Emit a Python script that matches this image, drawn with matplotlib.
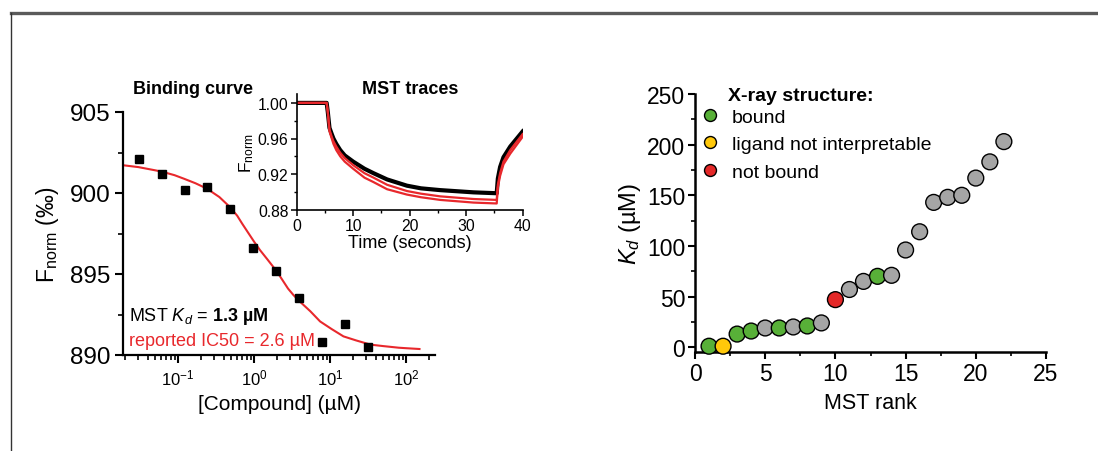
import matplotlib
matplotlib.use('Agg')
import matplotlib.pyplot as plt
from matplotlib.lines import Line2D
from matplotlib.ticker import MultipleLocator, FormatStrFormatter

plt.rcParams['font.family'] = ['Liberation Sans', 'DejaVu Sans']
plt.rcParams['mathtext.fontset'] = 'custom'
plt.rcParams['mathtext.rm'] = 'Liberation Sans'
plt.rcParams['mathtext.it'] = 'Liberation Sans:italic'
plt.rcParams['mathtext.bf'] = 'Liberation Sans:bold'

# binding curve: measured points (2-fold dilution series)
conc = [0.0305, 0.061, 0.122, 0.244, 0.488, 0.977, 1.95, 3.9, 7.8, 15.6, 31.25]
fnorm = [902.1, 901.2, 900.2, 900.4, 899.0, 896.6, 895.2, 893.5, 890.8, 891.9, 890.5]

# fitted curve
fit_conc = [0.02, 0.03, 0.06, 0.09, 0.12, 0.17, 0.24, 0.35, 0.48, 0.6, 0.7, 0.85,
            1.0, 1.2, 1.5, 2.0, 2.8, 3.3, 4.0, 5.5, 7.4, 10.5, 15, 22, 34, 50,
            80, 100, 150]
fit_fnorm = [901.70, 901.6, 901.33, 901.1, 900.88, 900.6, 900.27, 899.75, 899.14,
             898.6, 898.1, 897.5, 897.0, 896.47, 895.9, 895.15, 894.1, 893.7,
             893.3, 892.7, 892.07, 891.6, 891.15, 890.9, 890.64, 890.55, 890.45,
             890.42, 890.37]

# MST traces (inset)
trace_time = [0, 5.3, 5.5, 5.8, 6.2, 6.5, 7.0, 7.7, 8.5, 10, 12, 13.6, 16, 19.5,
              22, 25.4, 31.3, 35.4, 35.6, 36.0, 36.6, 37.8, 40]
trace_black = [1.0, 1.0, 0.99, 0.972, 0.965, 0.960, 0.954, 0.947, 0.941, 0.934,
               0.926, 0.921, 0.914, 0.907, 0.904, 0.902, 0.8995, 0.8985, 0.915,
               0.928, 0.939, 0.951, 0.968]
trace_red_hi = [1.0, 1.0, 0.99, 0.970, 0.962, 0.957, 0.951, 0.944, 0.938, 0.930,
                0.921, 0.916, 0.908, 0.901, 0.898, 0.895, 0.892, 0.891, 0.908,
                0.921, 0.934, 0.947, 0.965]
trace_red_lo = [1.0, 1.0, 0.99, 0.968, 0.960, 0.954, 0.947, 0.940, 0.934, 0.926,
                0.916, 0.911, 0.903, 0.897, 0.894, 0.891, 0.888, 0.887, 0.905,
                0.918, 0.931, 0.943, 0.962]

# Kd vs MST rank
rank = list(range(1, 23))
kd = [1, 1, 13, 16, 19, 19, 20, 21, 24, 47, 57, 65, 70, 71, 96, 114, 143, 148,
      150, 167, 183, 203]
xray = ['bound', 'ligand', 'bound', 'bound', 'none', 'bound', 'none', 'bound',
        'none', 'notbound', 'none', 'none', 'bound', 'none', 'none', 'none',
        'none', 'none', 'none', 'none', 'none', 'none']

colors = {'bound': '#58b038', 'ligand': '#ffc80a', 'notbound': '#e42828',
          'none': '#a5a5a5'}
legend_labels = ['bound', 'ligand not interpretable', 'not bound']
legend_keys = ['bound', 'ligand', 'notbound']

red = '#e8282c'
W, H = 1098, 452

fig = plt.figure(figsize=(10.98, 4.52), dpi=100)

# frame lines
fig.add_artist(Line2D([11 / W, 1], [1 - 14 / H, 1 - 14 / H], color='#5a5a5a', lw=2.4))
fig.add_artist(Line2D([11 / W, 11 / W], [1 - 14 / H, 0], color='#333333', lw=1))

# ---- binding curve ----
ax1 = fig.add_axes([123 / W, 1 - 356 / H, (435 - 123) / W, (356 - 113) / H])
ax1.set_xscale('log')
ax1.plot(fit_conc, fit_fnorm, color=red, lw=1.5)
ax1.plot(conc, fnorm, 's', color='k', ms=5.5)
ax1.set_xlim(0.0189, 240)
ax1.set_ylim(890, 905)
ax1.yaxis.set_major_locator(MultipleLocator(5))
ax1.yaxis.set_minor_locator(MultipleLocator(2.5))
for s in ['top', 'right']:
    ax1.spines[s].set_visible(False)
for s in ['left', 'bottom']:
    ax1.spines[s].set_linewidth(1.6)
ax1.tick_params(which='major', direction='out', length=6, width=1.5, pad=3)
ax1.tick_params(which='minor', direction='out', length=3.5, width=1.2)
ax1.tick_params(axis='y', labelsize=17.5)
ax1.tick_params(axis='x', labelsize=12)
ax1.set_xlabel('[Compound] (µM)', fontsize=15, labelpad=5)
ax1.set_ylabel('F$_{\\mathrm{norm}}$ (‰)', fontsize=16.5, labelpad=6)

fig.text(129 / W, 1 - 316.7 / H, r'MST $K_d$ = $\mathbf{1.3\ µM}$', fontsize=13,
         va='center')
fig.text(129 / W, 1 - 341.7 / H, 'reported IC50 = 2.6 µM', fontsize=13,
         va='center', color=red)
fig.text(193 / W, 1 - 90 / H, 'Binding curve', fontsize=13, fontweight='bold',
         ha='center', va='center')

# ---- MST traces inset ----
ax2 = fig.add_axes([296.7 / W, 1 - 210.7 / H, 226 / W, (210.7 - 95) / H])
ax2.plot(trace_time, trace_black, color='k', lw=3)
ax2.plot(trace_time, trace_red_hi, color=red, lw=1.6)
ax2.plot(trace_time, trace_red_lo, color=red, lw=1.6)
ax2.set_xlim(0, 40)
ax2.set_ylim(0.88, 1.01)
ax2.set_yticks([0.88, 0.92, 0.96, 1.00])
ax2.yaxis.set_major_formatter(FormatStrFormatter('%.2f'))
ax2.yaxis.set_minor_locator(MultipleLocator(0.02))
ax2.xaxis.set_major_locator(MultipleLocator(10))
ax2.xaxis.set_minor_locator(MultipleLocator(5))
for s in ['top', 'right']:
    ax2.spines[s].set_visible(False)
for s in ['left', 'bottom']:
    ax2.spines[s].set_linewidth(1.2)
ax2.tick_params(which='major', direction='out', length=4, width=1.1, pad=2,
                labelsize=11.3)
ax2.tick_params(which='minor', direction='out', length=2.5, width=1)
ax2.set_xlabel('Time (seconds)', fontsize=13, labelpad=1)
ax2.set_ylabel('F$_{\\mathrm{norm}}$', fontsize=12.5, labelpad=1)
fig.text(410 / W, 1 - 90 / H, 'MST traces', fontsize=13, fontweight='bold',
         ha='center', va='center')

# ---- Kd vs rank ----
ax3 = fig.add_axes([695 / W, 1 - 353.3 / H, 351 / W, (353.3 - 95) / H])
ax3.scatter(rank, kd, s=130, c=[colors[k] for k in xray], edgecolors='k',
            linewidths=1, zorder=3, clip_on=False)
ax3.set_xlim(0, 25)
ax3.set_ylim(-5, 250)
ax3.xaxis.set_major_locator(MultipleLocator(5))
ax3.xaxis.set_minor_locator(MultipleLocator(2.5))
ax3.yaxis.set_major_locator(MultipleLocator(50))
ax3.yaxis.set_minor_locator(MultipleLocator(25))
for s in ['top', 'right']:
    ax3.spines[s].set_visible(False)
for s in ['left', 'bottom']:
    ax3.spines[s].set_linewidth(1.8)
ax3.tick_params(which='major', direction='out', length=5, width=1.5, pad=2,
                labelsize=16.5)
ax3.tick_params(which='minor', direction='out', length=3, width=1.2)
ax3.set_xlabel('MST rank', fontsize=15.5, labelpad=5)
ax3.set_ylabel('$K_d$ (µM)', fontsize=17, labelpad=3)

handles = [Line2D([], [], marker='o', ls='', mfc=colors[k], mec='k', mew=1, ms=8.6)
           for k in legend_keys]
ax3.legend(handles, legend_labels, loc='upper left', frameon=False, fontsize=14,
           handlelength=1.0, handletextpad=0.62, labelspacing=0.5,
           borderaxespad=0, bbox_to_anchor=(692.5 / W, 1 - 101.5 / H),
           bbox_transform=fig.transFigure)
fig.text(728 / W, 1 - 97 / H, 'X-ray structure:', fontsize=14, fontweight='bold',
         va='center')

fig.savefig('out.png', dpi=100)
